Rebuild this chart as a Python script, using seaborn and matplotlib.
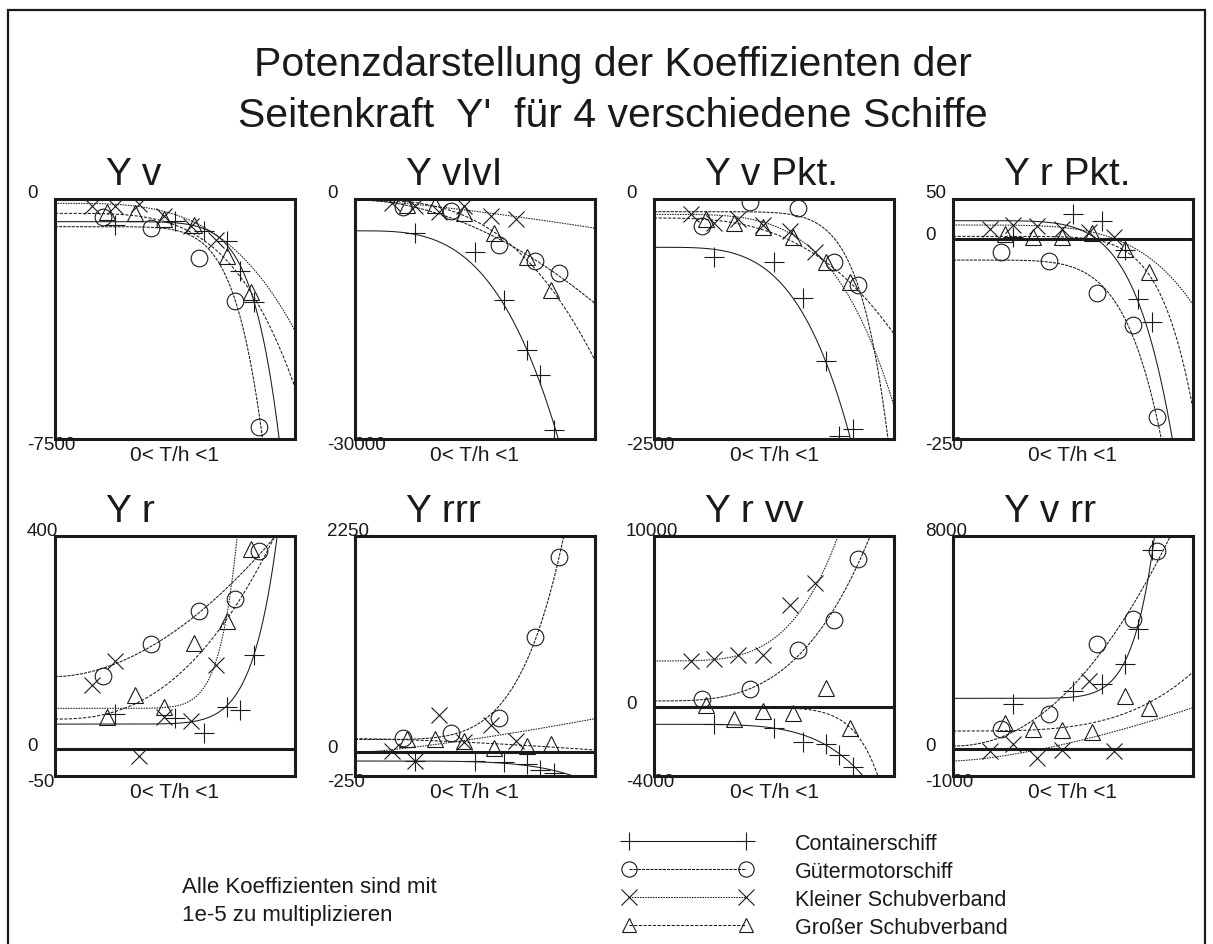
import numpy as np
import matplotlib
matplotlib.use("Agg")
import matplotlib.pyplot as plt
from matplotlib.lines import Line2D
from matplotlib.patches import Rectangle
import seaborn as sns

sns.set_theme(style="white")
plt.rcParams["font.family"] = ["Liberation Sans", "DejaVu Sans"]
plt.rcParams["text.color"] = "k"
plt.rcParams["axes.labelcolor"] = "k"

# Panels (order: top row left->right, then bottom row)
panel_titles = ["Y v", "Y vIvI", "Y v Pkt.", "Y r Pkt.", "Y r", "Y rrr", "Y r vv", "Y v rr"]
y_ranges = [(-7500, 0), (-30000, 0), (-2500, 0), (-250, 50),
            (-50, 400), (-250, 2250), (-4000, 10000), (-1000, 8000)]

ships = ["Containerschiff", "Gütermotorschiff", "Kleiner Schubverband", "Großer Schubverband"]
markers = ["+", "o", "x", "^"]
marker_sizes = [14, 12, 12, 11]
line_styles = ["-", (0, (3, 1)), (0, (1.5, 1)), (0, (3, 1.5))]

# T/h of the measured points for each ship
th_container = [0.25, 0.50, 0.62, 0.715, 0.77, 0.83]
th_gueter = [0.20, 0.40, 0.60, 0.75, 0.85]
th_kleiner = [0.155, 0.25, 0.35, 0.455, 0.565, 0.67]
th_gross = [0.217, 0.333, 0.455, 0.58, 0.715, 0.817]

# measured coefficients (x 1e5), one list per panel
container_pts = [
    [-813, -677, -990, -1302, -2240, -3229],
    [-4268, -6569, -12636, -18912, -21966, -28870],
    [-608, -660, -1035, -1684, -2472, -2396],
    [3, 31, 23, -14, -75, -104],
    [67, 58, 30, 80, 74, 177],
    [-94, -94, -104, -128, -187, -215],
    [-984, -1178, -2014, -2150, -2792, -3453],
    [1687, 2187, 2437, 3187, 4525, 7475],
]
gueter_pts = [
    [-573, -917, -1854, -3177, -7135],
    [-1046, -1548, -5732, -7699, -9289],
    [-285, -35, -97, -653, -896],
    [-16, -28, -67, -108, -223],
    [138, 198, 259, 282, 372],
    [149, 194, 358, 1201, 2035],
    [513, 1096, 3351, 5101, 8678],
    [775, 1312, 3937, 4875, 7437],
]
kleiner_pts = [
    [-229, -229, -156, -521, -854, -1271],
    [-502, -920, -1674, -920, -2176, -2510],
    [-156, -250, -208, -271, -330, -556],
    [13, 17, 16, 12.5, 9, 2],
    [121, 165, -13, 61, 54, 158],
    [10, -94, 382, 100, 278, 115],
    [2710, 2846, 3040, 3040, 5957, 7240],
    [-62, 187, -312, -25, 2562, -62],
]
gross_pts = [
    [-417, -437, -625, -813, -1771, -2917],
    [-711, -795, -1757, -4268, -7197, -11380],
    [-208, -250, -295, -399, -660, -868],
    [6, 3, 3, 7.5, -12.5, -41],
    [61, 102, 80, 200, 240, 376],
    [139, 139, 115, 45, 63, 80],
    [125, -653, -206, -303, 1154, -1178],
    [975, 750, 725, 650, 2000, 1562],
]

# power fits  y = a + b * (T/h)^n  as (a, b, n) per panel
container_fit = [(-708, -12050, 8.4), (-3975, -45200, 3.33), (-503, -4290, 3.83), (22.9, -462, 5.85),
                 (47.3, 707, 9.04), (-94, -251, 5.0), (-984, -5756, 4.68), (1912, 30825, 9.3)]
gueter_fit = [(-865, -19750, 7.5), (-100, -12950, 1.9), (-132, -2913, 8.2), (-26.3, -508, 5.8),
              (136.4, 308, 1.85), (130, 4173, 4.86), (377, 13440, 3.2), (125, 9689, 2.1)]
kleiner_fit = [(-135, -3980, 3.5), (-80, -3560, 1.3), (-160, -1993, 4.07), (17.5, -99.5, 4.42),
               (76.8, 5844, 10.5), (-7, 354, 1.3), (2710, 21070, 4.0), (-437, 2000, 1.5)]
gross_fit = [(-448, -5440, 3.9), (-100, -20070, 2.94), (-198, -1208, 2.9), (3.3, -216, 7.46),
             (56.7, 426, 2.46), (139, -118, 1.5), (0, -7622, 9.3), (687, 2213, 3.63)]

th_all = [th_container, th_gueter, th_kleiner, th_gross]
pts_all = [container_pts, gueter_pts, kleiner_pts, gross_pts]
fit_all = [container_fit, gueter_fit, kleiner_fit, gross_fit]

W, H = 1213, 945
fig = plt.figure(figsize=(W / 100, H / 100), dpi=100)
col_left = [55, 355, 654, 953]
row_top = [200, 537]
box = 240
tt = np.linspace(0, 1, 400)
line_col = "#1a1a1a"

for i, title in enumerate(panel_titles):
    r, c = divmod(i, 4)
    ax = fig.add_axes([col_left[c] / W, 1 - (row_top[r] + box) / H, box / W, box / H])
    ymin, ymax = y_ranges[i]

    for s in range(4):
        a, b, n = fit_all[s][i]
        sns.lineplot(x=tt, y=a + b * tt ** n, ax=ax, color=line_col, lw=0.75,
                     linestyle=line_styles[s], estimator=None)
        sns.lineplot(x=th_all[s], y=pts_all[s][i], ax=ax, estimator=None, linestyle="",
                     marker=markers[s], ms=marker_sizes[s], mfc="none", mec="k", mew=0.8, color="k")

    if ymin < 0 < ymax:
        ax.axhline(0, color="k", lw=2.2)
        ax.annotate("0", xy=(0, 0), xycoords=ax.get_yaxis_transform(), xytext=(-28, 4),
                    textcoords="offset pixels", ha="left", va="center", fontsize=13.5)

    ax.set_xlim(0, 1)
    ax.set_ylim(ymin, ymax)
    ax.set_xticks([])
    ax.set_yticks([])
    for sp in ax.spines.values():
        sp.set_linewidth(2.2)
        sp.set_color("k")

    ax.annotate(str(ymax), xy=(0, 1), xycoords="axes fraction", xytext=(-28, 6),
                textcoords="offset pixels", ha="left", va="center", fontsize=13.5)
    ax.annotate(str(ymin), xy=(0, 0), xycoords="axes fraction", xytext=(-28, -6),
                textcoords="offset pixels", ha="left", va="center", fontsize=13.5)
    ax.annotate(title, xy=(0, 1), xycoords="axes fraction", xytext=(51, 15),
                textcoords="offset pixels", ha="left", va="baseline", fontsize=28)
    ax.set_xlabel("0< T/h <1", fontsize=15, labelpad=4)

# headline
fig.text(0.505, 1 - 76 / H, "Potenzdarstellung der Koeffizienten der",
         ha="center", va="baseline", fontsize=29.5)
fig.text(0.505, 1 - 127 / H, "Seitenkraft  Y'  für 4 verschiedene Schiffe",
         ha="center", va="baseline", fontsize=29.5)

# note
fig.text(182 / W, 1 - 893 / H, "Alle Koeffizienten sind mit", va="baseline", fontsize=16)
fig.text(182 / W, 1 - 921 / H, "1e-5 zu multiplizieren", va="baseline", fontsize=16)

# legend
handles = [Line2D([0], [0], color=line_col, lw=0.75, linestyle=line_styles[s], marker=markers[s],
                  ms=marker_sizes[s] - 1, mfc="none", mec="k", mew=0.8) for s in range(4)]
fig.legend(handles, ships, loc="upper left", bbox_to_anchor=(623 / W, 1 - 834 / H),
           frameon=False, numpoints=2, handlelength=6.0, handletextpad=2.0,
           labelspacing=0.32, borderpad=0, borderaxespad=0, fontsize=15.5)

# outer frame
fig.add_artist(Rectangle((8 / W, -0.05), (1205 - 8) / W, (945 - 11) / H + 0.05,
                         transform=fig.transFigure, fill=False, lw=1.6, ec="k"))

fig.savefig("out.png", dpi=100)
